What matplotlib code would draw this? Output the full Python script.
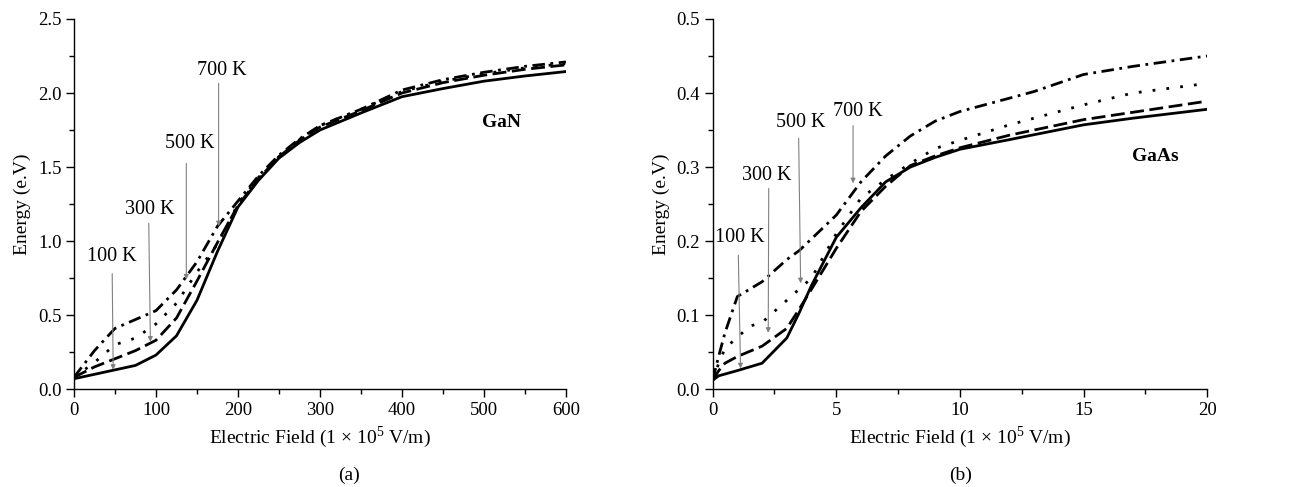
import matplotlib
matplotlib.use("Agg")
import matplotlib.pyplot as plt
from matplotlib.ticker import MultipleLocator, FormatStrFormatter

plt.rcParams['font.family'] = ['Liberation Serif', 'DejaVu Serif']
plt.rcParams['mathtext.fontset'] = 'custom'
plt.rcParams['mathtext.rm'] = 'Liberation Serif'
plt.rcParams['lines.scale_dashes'] = False

# ---------------- data: GaN ----------------
gan_x = [0, 25, 50, 75, 100, 125, 150, 175, 200, 225, 250, 275, 300, 350, 400, 450, 500, 550, 600]
gan_100 = [0.07, 0.10, 0.13, 0.16, 0.23, 0.36, 0.60, 0.93, 1.23, 1.41, 1.56, 1.665, 1.75, 1.865, 1.975, 2.03, 2.08, 2.115, 2.145]
gan_300 = [0.08, 0.15, 0.205, 0.26, 0.33, 0.48, 0.73, 0.99, 1.24, 1.42, 1.57, 1.68, 1.77, 1.88, 2.00, 2.07, 2.12, 2.16, 2.19]
gan_500 = [0.08, 0.18, 0.30, 0.345, 0.44, 0.58, 0.79, 0.98, 1.25, 1.43, 1.57, 1.685, 1.78, 1.89, 2.01, 2.08, 2.13, 2.17, 2.20]
gan_700 = [0.08, 0.26, 0.41, 0.47, 0.53, 0.67, 0.86, 1.10, 1.27, 1.44, 1.58, 1.69, 1.78, 1.89, 2.02, 2.09, 2.14, 2.18, 2.21]

# ---------------- data: GaAs ----------------
gaas_x_100 = [0, 0.25, 1, 2, 3, 3.5, 4, 5, 6, 7, 8, 9, 10, 12, 15, 17, 20]
gaas_100 = [0.012, 0.018, 0.025, 0.035, 0.069, 0.103, 0.14, 0.205, 0.245, 0.28, 0.30, 0.313, 0.324, 0.337, 0.357, 0.366, 0.378]
gaas_x_300 = [0, 0.25, 0.5, 1, 2, 3, 3.5, 4, 5, 6, 7, 8, 9, 10, 12, 15, 17, 20]
gaas_300 = [0.012, 0.025, 0.035, 0.044, 0.058, 0.082, 0.108, 0.135, 0.19, 0.24, 0.274, 0.302, 0.315, 0.326, 0.343, 0.364, 0.374, 0.389]
gaas_x_500 = [0, 0.25, 0.5, 1, 1.5, 2, 2.5, 3, 3.5, 4, 4.5, 5, 6, 7, 8, 9, 10, 12, 15, 17, 20]
gaas_500 = [0.012, 0.035, 0.055, 0.07, 0.085, 0.09, 0.105, 0.12, 0.135, 0.15, 0.18, 0.21, 0.258, 0.283, 0.305, 0.325, 0.336, 0.357, 0.384, 0.40, 0.413]
gaas_x_700 = [0, 0.25, 0.5, 1, 2, 3, 3.5, 5, 6, 7, 8, 9, 10, 13, 15, 17, 20]
gaas_700 = [0.012, 0.045, 0.076, 0.125, 0.145, 0.175, 0.187, 0.235, 0.28, 0.315, 0.342, 0.362, 0.375, 0.402, 0.425, 0.436, 0.45]

temps = ["100 K", "300 K", "500 K", "700 K"]
# annotation (text position, arrow start, arrow end)
gan_ann = [((46.6, 0.896), (46.6, 0.78), (47.8, 0.13)),
           ((92.4, 1.215), (91.2, 1.12), (93.2, 0.32)),
           ((140.6, 1.656), (137, 1.525), (137, 0.74)),
           ((180.4, 2.15), (176.4, 2.066), (176.4, 1.10))]
gaas_ann = [((1.10, 0.205), (1.04, 0.181), (1.13, 0.028)),
            ((2.18, 0.288), (2.27, 0.271), (2.25, 0.076)),
            ((3.56, 0.360), (3.48, 0.339), (3.56, 0.143)),
            ((5.88, 0.375), (5.68, 0.356), (5.68, 0.278))]

styles = [dict(ls='-'),
          dict(ls=(0, (10, 4))),
          dict(ls=(0, (2, 8))),
          dict(ls=(0, (9, 4, 2, 4)))]

TICK_FS = 13.5
LABEL_FS = 14
ANN_FS = 14.5

fig = plt.figure(figsize=(12.98, 4.87), dpi=100)
ax1 = fig.add_axes([0.057, 0.201, 0.379, 0.760])
ax2 = fig.add_axes([0.549, 0.201, 0.381, 0.760])


def style_axis(ax):
    for s in ['top', 'right']:
        ax.spines[s].set_visible(False)
    for s in ['left', 'bottom']:
        ax.spines[s].set_linewidth(1.0)
    ax.tick_params(which='major', direction='out', length=6, width=1, labelsize=TICK_FS, pad=3)
    ax.tick_params(which='minor', direction='out', length=3.5, width=1)
    ax.set_xlabel("Electric Field (1 \u00d7 10$^5$ V/m)", fontsize=LABEL_FS, labelpad=4)
    ax.set_ylabel("Energy (e.V)", fontsize=LABEL_FS, labelpad=5)


# GaN
for y, st in zip([gan_100, gan_300, gan_500, gan_700], styles):
    ax1.plot(gan_x, y, color='black', lw=2.0, **st)
ax1.set_xlim(0, 600)
ax1.set_ylim(0, 2.5)
ax1.xaxis.set_major_locator(MultipleLocator(100))
ax1.xaxis.set_minor_locator(MultipleLocator(50))
ax1.yaxis.set_major_locator(MultipleLocator(0.5))
ax1.yaxis.set_minor_locator(MultipleLocator(0.25))
ax1.yaxis.set_major_formatter(FormatStrFormatter('%.1f'))
style_axis(ax1)
for t, (tp, a0, a1) in zip(temps, gan_ann):
    ax1.text(tp[0], tp[1], t, ha='center', va='center', fontsize=ANN_FS)
    ax1.annotate('', xy=a1, xytext=a0,
                 arrowprops=dict(arrowstyle='-|>', color='#808080', lw=0.8,
                                 mutation_scale=7, shrinkA=0, shrinkB=0))
ax1.text(521, 1.80, 'GaN', ha='center', va='center', fontsize=LABEL_FS, fontweight='bold')

# GaAs
for (x, y), st in zip([(gaas_x_100, gaas_100), (gaas_x_300, gaas_300),
                       (gaas_x_500, gaas_500), (gaas_x_700, gaas_700)], styles):
    ax2.plot(x, y, color='black', lw=2.0, **st)
ax2.set_xlim(0, 20)
ax2.set_ylim(0, 0.5)
ax2.xaxis.set_major_locator(MultipleLocator(5))
ax2.xaxis.set_minor_locator(MultipleLocator(2.5))
ax2.yaxis.set_major_locator(MultipleLocator(0.1))
ax2.yaxis.set_minor_locator(MultipleLocator(0.05))
ax2.yaxis.set_major_formatter(FormatStrFormatter('%.1f'))
style_axis(ax2)
for t, (tp, a0, a1) in zip(temps, gaas_ann):
    ax2.text(tp[0], tp[1], t, ha='center', va='center', fontsize=ANN_FS)
    ax2.annotate('', xy=a1, xytext=a0,
                 arrowprops=dict(arrowstyle='-|>', color='#808080', lw=0.8,
                                 mutation_scale=7, shrinkA=0, shrinkB=0))
ax2.text(17.9, 0.314, 'GaAs', ha='center', va='center', fontsize=LABEL_FS, fontweight='bold')

fig.text(349 / 1298, 1 - 475 / 487, '(a)', ha='center', va='center', fontsize=LABEL_FS)
fig.text(961 / 1298, 1 - 475 / 487, '(b)', ha='center', va='center', fontsize=LABEL_FS)

fig.savefig('out.png', dpi=100)
